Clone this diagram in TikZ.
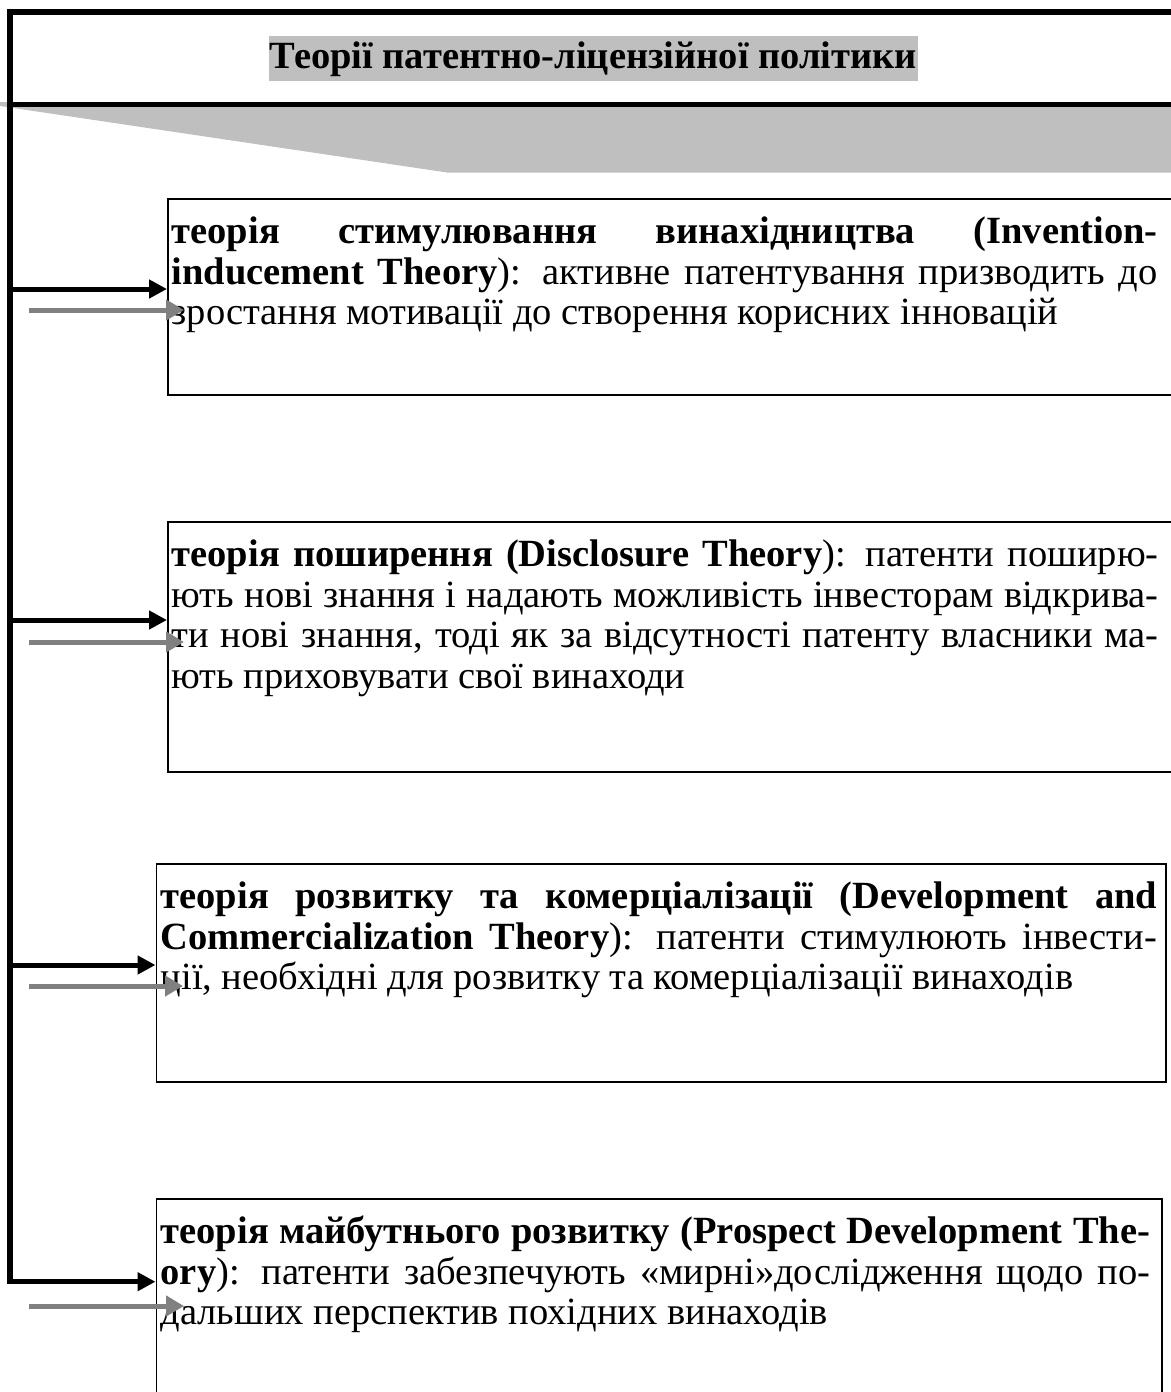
\documentclass[tikz,border=0pt]{standalone}
\usepackage{fontspec}
\setmainfont{Liberation Serif}
\usetikzlibrary{arrows.meta}

\newcommand\theoryfont{\fontsize{38.5}{40.5}\selectfont}

\tikzset{
  frameline/.style={line width=5.5pt, line join=miter},
  branch/.style={line width=5pt, -{Triangle[length=18pt,width=18pt]}},
  hint/.style={line width=5pt, gray, -{Triangle[length=18pt,width=20pt]}},
  theorybox/.style={draw, line width=1.6pt, anchor=north west, inner sep=0pt},
  theorytext/.style={anchor=north west, inner sep=0pt, align=justify,
    font=\theoryfont, execute at begin node={\hyphenpenalty=10000\tolerance=10000}},
  titlebox/.style={fill=gray!50, font=\theoryfont\bfseries, inner xsep=1pt,
    inner ysep=0pt, text height=29pt, text depth=9pt, minimum height=45pt},
}

\begin{document}
\begin{tikzpicture}[x=1pt, y=-1pt, >=Triangle]

    \useasboundingbox (0,0) rectangle (1170,1392);

    % ==================================================
    % шапка
    % ==================================================

    % сірий клин під шапкою
    \fill[gray!50] (0,102) -- (1175,102) -- (1175,172.5) -- (447,172.5) -- (0,106) -- cycle;

    % назва
    \node[titlebox] (title) at (593.5,58.5) {Теорії патентно-ліцензійної політики};

    % ==================================================
    % блоки теорій
    % ==================================================

    % стимулювання винахідництва
    \node[theorybox, minimum width=1020pt, minimum height=196pt] (box1) at (167,198) {};
    \node[theorytext, text width=986pt] (txt1) at ([shift={(4.5,17)}]box1.north west)
      {\strut\textbf{теорія стимулювання винахідництва (Invention-\linebreak
       inducement Theory}): активне патентування призводить до\linebreak
       зростання мотивації до створення корисних інновацій};

    % поширення
    \node[theorybox, minimum width=1020pt, minimum height=250pt] (box2) at (167,521) {};
    \node[theorytext, text width=987pt] (txt2) at ([shift={(4.5,17)}]box2.north west)
      {\strut\textbf{теорія поширення (Disclosure Theory}): патенти поширю-\linebreak
       ють нові знання і надають можливість інвесторам відкрива-\linebreak
       ти нові знання, тоді як за відсутності патенту власники ма-\linebreak
       ють приховувати свої винаходи};

    % розвиток та комерціалізація
    \node[theorybox, minimum width=1009.5pt, minimum height=218pt] (box3) at (155.5,863) {};
    \node[theorytext, text width=996.5pt] (txt3) at ([shift={(5,17)}]box3.north west)
      {\strut\textbf{теорія розвитку та комерціалізації (Development and\linebreak
       Commercialization Theory}): патенти стимулюють інвести-\linebreak
       ції, необхідні для розвитку та комерціалізації винаходів};

    % майбутній розвиток
    \node[theorybox, minimum width=1005.5pt, minimum height=250pt] (box4) at (155.5,1198) {};
    \node[theorytext, text width=989.5pt] (txt4) at ([shift={(5,17)}]box4.north west)
      {\strut\textbf{теорія майбутнього розвитку (Prospect Development The-\linebreak
       ory}): патенти забезпечують «мирні»дослідження щодо по-\linebreak
       дальших перспектив похідних винаходів};

    % ==================================================
    % рамка і стрілки
    % ==================================================

    % точки на лівій лінії
    \coordinate (topR) at (1175,12);
    \coordinate (topL) at (10,12);
    \coordinate (midL) at (10,104.5);
    \coordinate (midR) at (1175,104.5);
    \coordinate (b1) at (10,289);
    \coordinate (b2) at (10,620);
    \coordinate (b3) at (10,965);
    \coordinate (b4) at (10,1281.7);

    % верх, ліва лінія і остання стрілка
    \draw[frameline] (midL) -- (midR);
    \draw[frameline, -{Triangle[length=18pt,width=18pt]}]
      (topR) -- (topL) -- (b4) -- (b4 -| box4.west);

    % чорні стрілки
    \draw[branch] (b1) -- (b1 -| box1.west);
    \draw[branch] (b2) -- (b2 -| box2.west);
    \draw[branch] (b3) -- (b3 -| box3.west);

    % сірі стрілки
    \coordinate (g1) at (29,310);
    \coordinate (g2) at (29,642);
    \coordinate (g3) at (29,986);
    \coordinate (g4) at (29,1306);
    \coordinate (g1e) at (184,310);
    \coordinate (g2e) at (184,642);
    \coordinate (g3e) at (183,986);
    \coordinate (g4e) at (184,1306);
    \draw[hint] (g1) -- (g1e);
    \draw[hint] (g2) -- (g2e);
    \draw[hint] (g3) -- (g3e);
    \draw[hint] (g4) -- (g4e);

  \end{tikzpicture}
\end{document}
